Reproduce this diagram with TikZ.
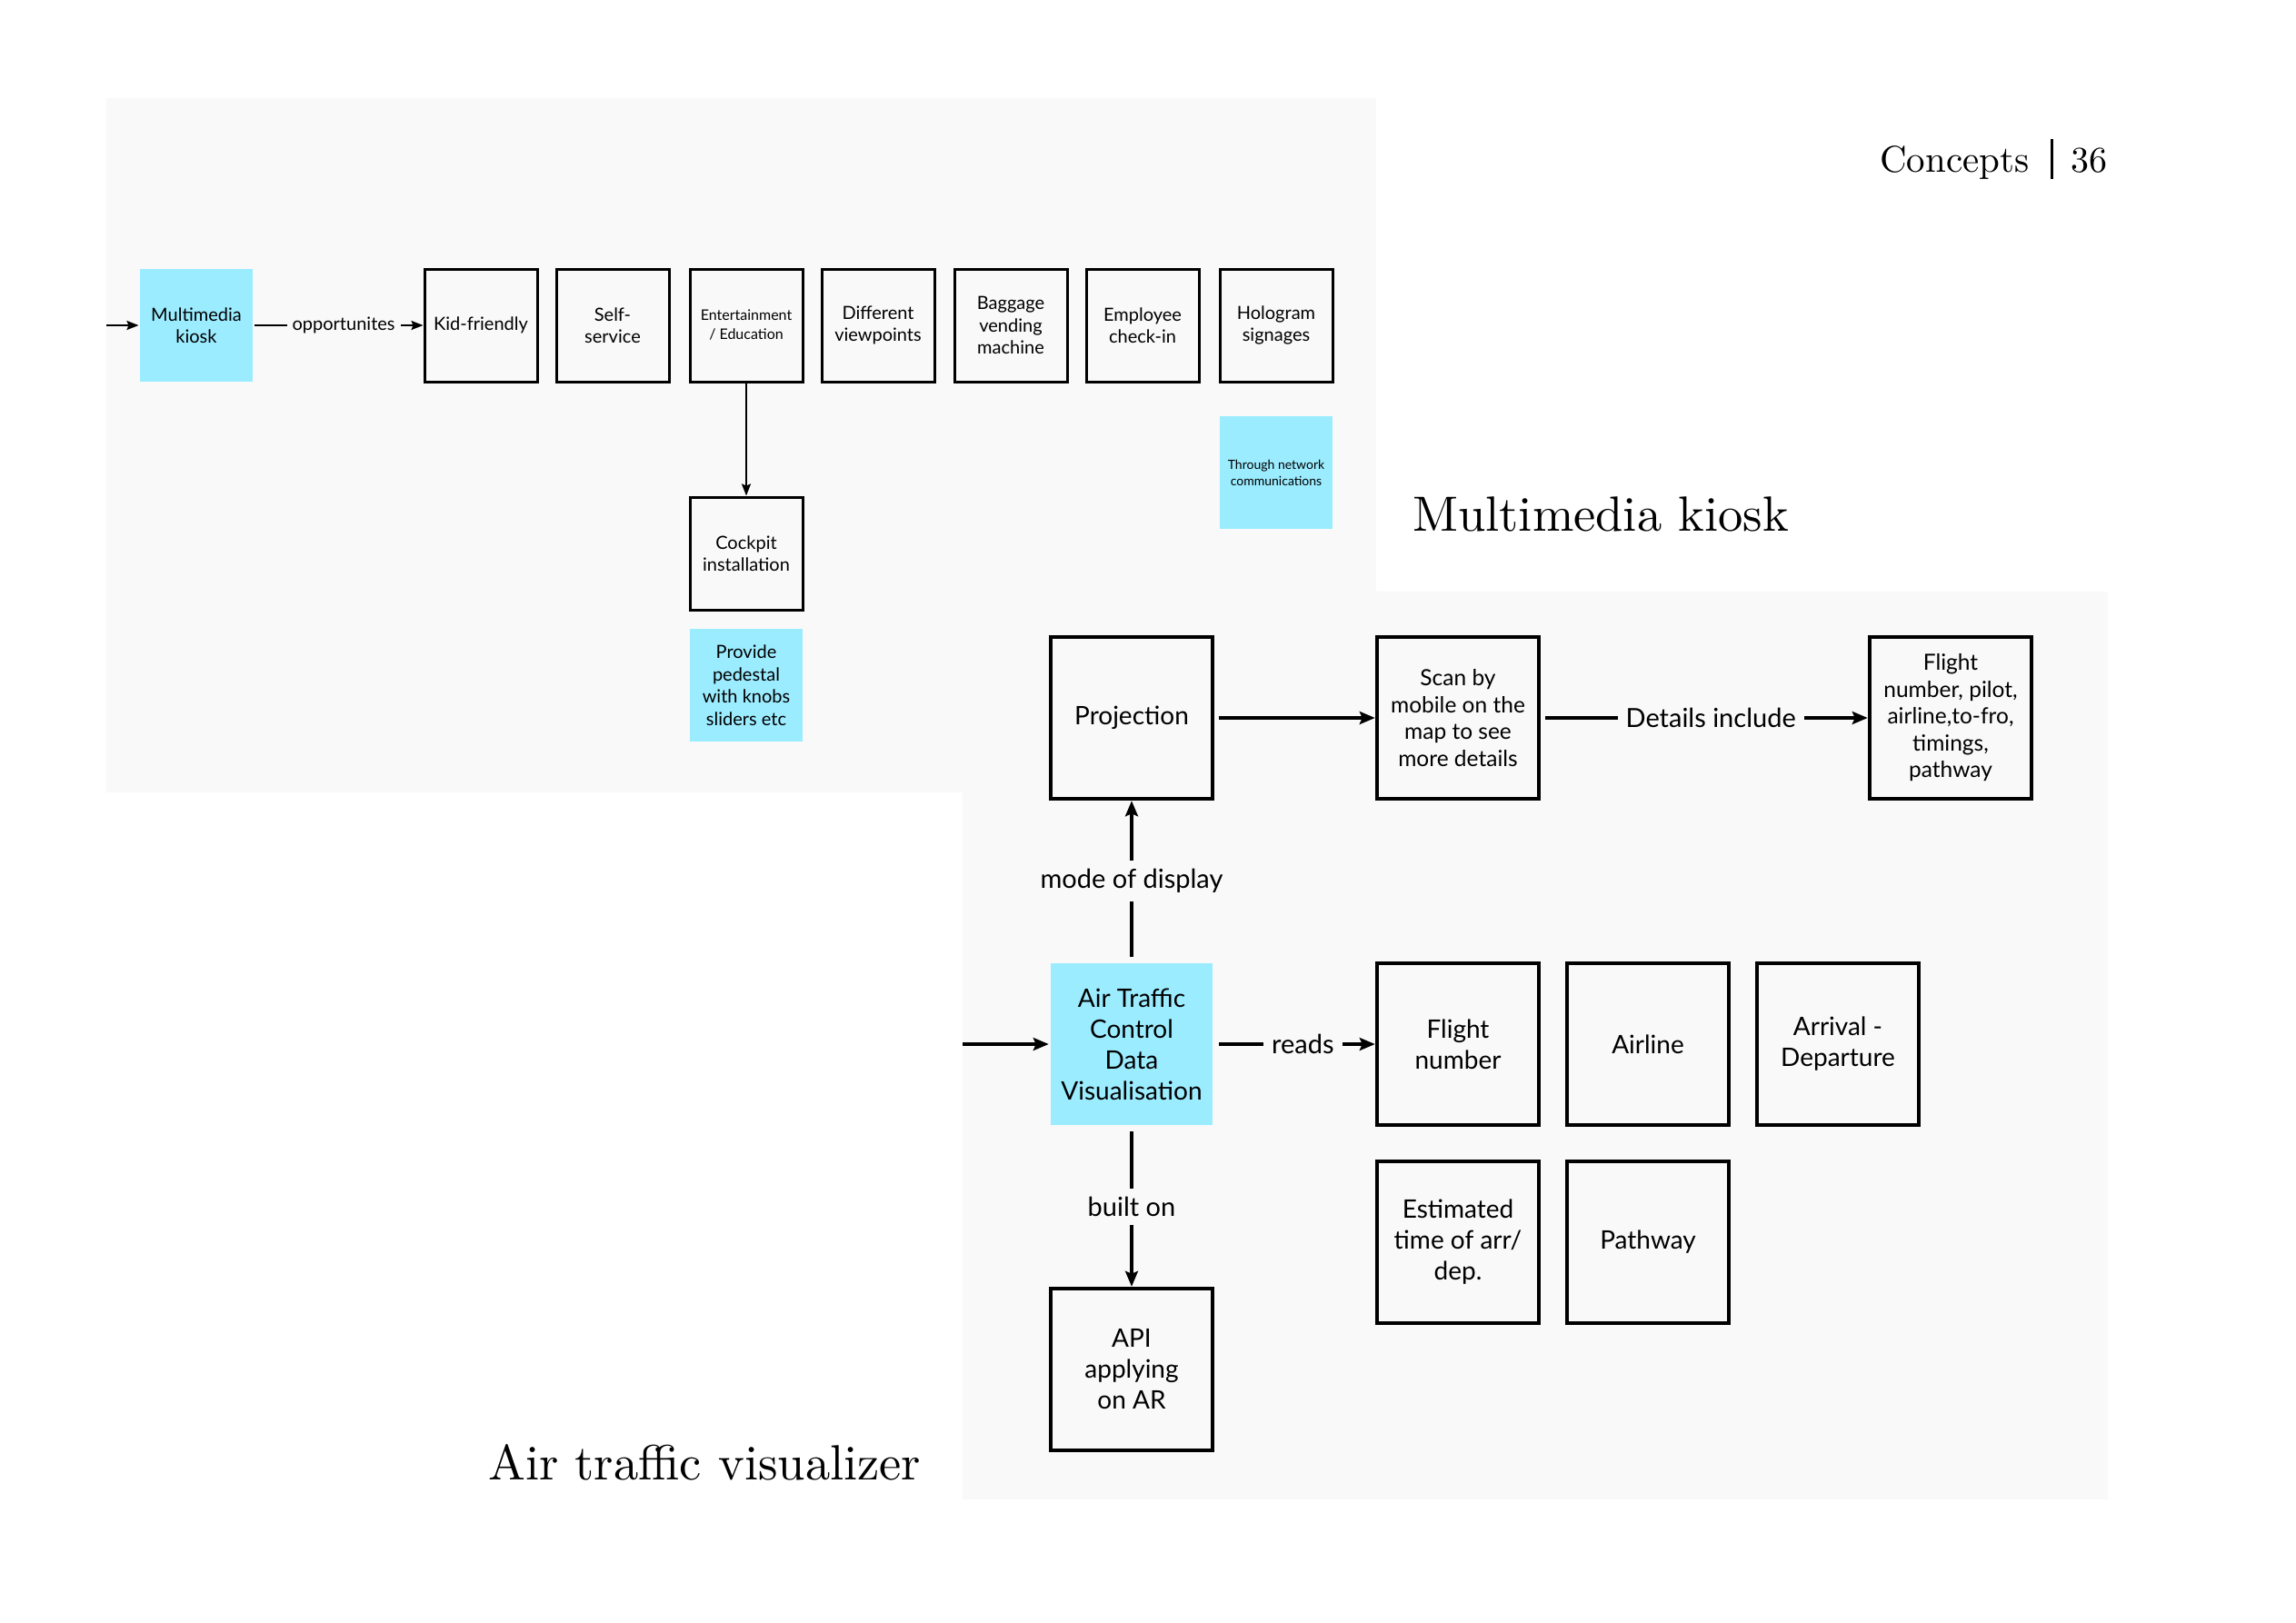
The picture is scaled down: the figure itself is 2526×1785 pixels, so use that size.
\documentclass[tikz,border=0pt]{standalone}
\usepackage{fontspec}
\newfontfamily\boxfont{Lato}
\newfontfamily\titlefont{lmroman10-regular.otf}
\usetikzlibrary{arrows.meta}
\definecolor{panelgray}{RGB}{249,249,249}
\definecolor{kioskcyan}{RGB}{155,236,255}

\begin{document}
\begin{tikzpicture}[x=1pt, y=-1pt,
    smallbox/.style={draw, line width=3pt, minimum size=124pt, inner sep=0pt, align=center, font=\boxfont\fontsize{20}{24.5}\selectfont},
    smallcyan/.style={smallbox, draw=none, fill=kioskcyan},
    bigbox/.style={draw, line width=4.5pt, minimum size=178pt, inner sep=0pt, align=center, font=\boxfont\fontsize{28}{34}\selectfont},
    bigcyan/.style={bigbox, draw=none, fill=kioskcyan},
    thinarrow/.style={-{Stealth[length=13pt, width=10pt, inset=2pt]}, line width=2pt},
    thickarrow/.style={-{Stealth[length=17pt, width=14pt, inset=3pt]}, line width=3.2pt, shorten <=5pt},
    smalllabel/.style={fill=panelgray, inner sep=6pt, font=\boxfont\fontsize{20}{24}\selectfont},
    biglabel/.style={fill=panelgray, inner sep=9pt, font=\boxfont\fontsize{29}{34}\selectfont},
    pagetitle/.style={anchor=base west, inner sep=0pt, font=\titlefont\fontsize{54.5}{54.5}\selectfont}
  ]
  % page and panels
  \fill[white] (0,0) rectangle (2526,1785);
  \useasboundingbox (0,0) rectangle (2526,1785);
  \fill[panelgray] (117,108) rectangle (1514,872);
  \fill[panelgray] (1059,651) rectangle (2319,1650);

  % header
  \node[anchor=base west, inner sep=0pt, font=\titlefont\fontsize{41}{41}\selectfont] (concepts) at (2068,189) {Concepts};
  \node[anchor=base west, inner sep=0pt, font=\titlefont\fontsize{40}{40}\selectfont] (pagenum) at (2278,189) {36};
  \draw[line width=3pt] (2257,153) -- (2257,197);

  % titles
  \node[pagetitle] (kiosktitle) at (1554,584) {Multimedia kiosk};
  \node[pagetitle] (atctitle) at (537,1628) {Air traffic visualizer};

  % multimedia kiosk
  \coordinate (kioskin) at (117,358);
  \node[smallcyan] (kiosk) at (216,358) {Multimedia\\kiosk};
  \node[smallbox] (kid) at (529,358) {Kid-friendly};
  \node[smallbox] (self) at (674,358) {Self-\\service};
  \node[smallbox, font=\boxfont\fontsize{16}{21}\selectfont] (ent) at (821,358) {Entertainment\\/ Education};
  \node[smallbox] (views) at (966,358) {Different\\viewpoints};
  \node[smallbox] (baggage) at (1112,358) {Baggage\\vending\\machine};
  \node[smallbox] (checkin) at (1257,358) {Employee\\check-in};
  \node[smallbox] (hologram) at (1404,358) {Hologram\\signages};
  \node[smallbox] (cockpit) at (821,609) {Cockpit\\installation};
  \node[smallcyan] (pedestal) at (821,754) {Provide\\pedestal\\with knobs\\sliders etc};
  \node[smallcyan, font=\boxfont\fontsize{14}{18}\selectfont] (network) at (1404,520) {Through network\\communications};

  \draw[thinarrow] (kioskin) -- (kiosk);
  \draw[thinarrow] (kiosk) -- node[smalllabel, pos=0.53] {opportunites} (kid);
  \draw[thinarrow] (ent) -- (cockpit);

  % air traffic visualizer
  \coordinate (atcin) at (1059,1149);
  \node[bigbox] (projection) at (1245,790) {Projection};
  \node[bigbox, font=\boxfont\fontsize{24.5}{29.5}\selectfont] (scan) at (1604,790) {Scan by\\mobile on the\\map to see\\more details};
  \node[bigbox, font=\boxfont\fontsize{24.5}{29.5}\selectfont] (details) at (2146,790) {Flight\\number, pilot,\\airline,to-fro,\\timings,\\pathway};
  \node[bigcyan] (atc) at (1245,1149) {Air Traffic\\Control\\Data\\Visualisation};
  \node[bigbox] (flightno) at (1604,1149) {Flight\\number};
  \node[bigbox] (airline) at (1813,1149) {Airline};
  \node[bigbox] (arrival) at (2022,1149) {Arrival -\\Departure};
  \node[bigbox] (eta) at (1604,1367) {Estimated\\time of arr/\\dep.};
  \node[bigbox] (pathway) at (1813,1367) {Pathway};
  \node[bigbox] (api) at (1245,1507) {API\\applying\\on AR};

  \draw[thickarrow, shorten <=0pt] (atcin) -- (atc);
  \draw[thickarrow] (atc) -- node[biglabel] {mode of display} (projection);
  \draw[thickarrow] (atc) -- node[biglabel, pos=0.55] {reads} (flightno);
  \draw[thickarrow] (atc) -- node[biglabel] {built on} (api);
  \draw[thickarrow] (projection) -- (scan);
  \draw[thickarrow] (scan) -- node[biglabel, pos=0.52] {Details include} (details);
\end{tikzpicture}
\end{document}
